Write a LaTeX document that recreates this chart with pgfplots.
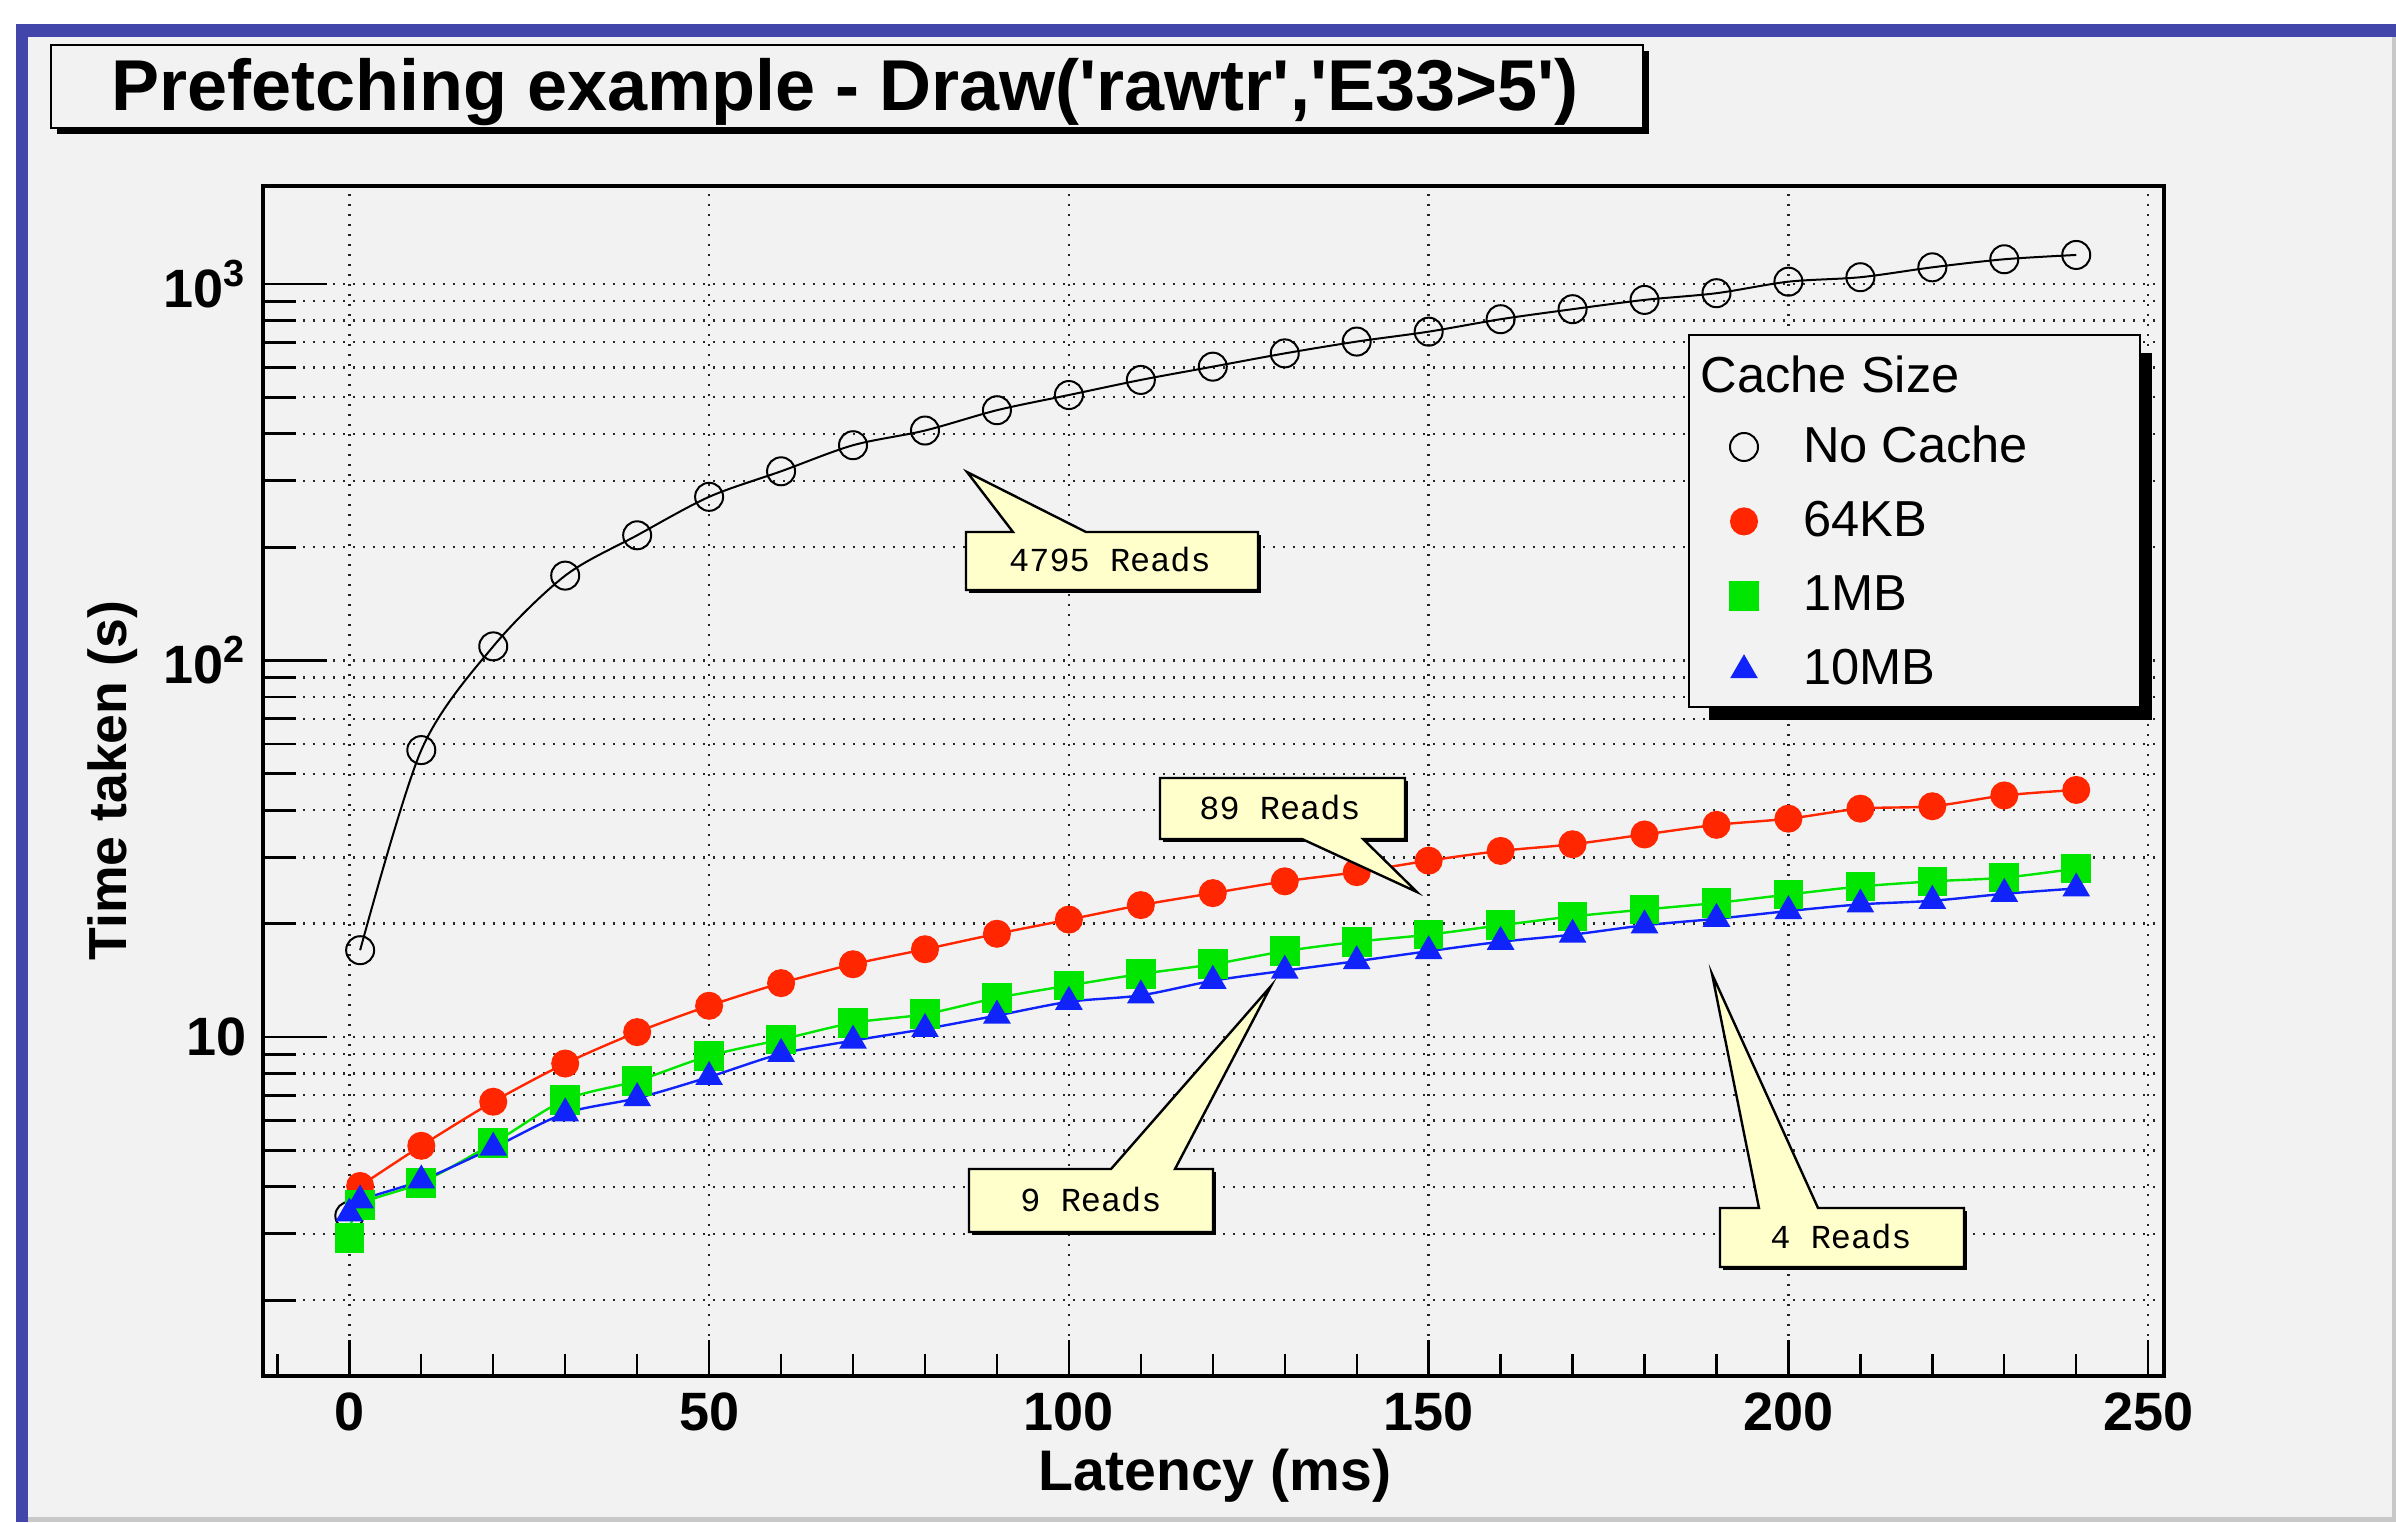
\documentclass[border=0pt]{standalone}
\usepackage{fontspec}
\setmainfont{Liberation Sans}
\setmonofont{Liberation Mono}
\usepackage{pgfplots}
\pgfplotsset{compat=1.18}
\definecolor{canvas}{RGB}{242,242,242}
\definecolor{frameblue}{RGB}{66,70,170}
\definecolor{rootred}{RGB}{255,38,0}
\definecolor{rootgreen}{RGB}{0,230,0}
\definecolor{rootblue}{RGB}{15,35,250}
\definecolor{noteyellow}{RGB}{255,255,204}
\definecolor{edgegray}{RGB}{200,200,200}

\begin{document}
\begin{tikzpicture}
\begin{scope}[x=0.25pt,y=-0.25pt]
\useasboundingbox (0,0) rectangle (2396,1522);
\fill[white] (0,0) rectangle (2396,1522);
\fill[canvas] (28,37) rectangle (2396,1522);
\fill[edgegray] (2392,37) rectangle (2396,1522);
\fill[edgegray] (28,1517) rectangle (2396,1522);
\fill[frameblue] (16,24) rectangle (2396,37);
\fill[frameblue] (16,24) rectangle (28,1522);
% title box
\fill[black] (57,51) rectangle (1649,134);
\filldraw[fill=canvas, draw=black, line width=0.6pt] (51,45) rectangle (1643,128);
\node[anchor=base, inner sep=0pt, font=\fontsize{18}{20}\selectfont\bfseries] at (845,110)
  {Prefetching example - Draw(\textquotesingle rawtr\textquotesingle,\textquotesingle E33>5\textquotesingle)};
\coordinate (axisNW) at (263,185.5);
\end{scope}

\begin{axis}[
  at={(axisNW)}, anchor=north west,
  width=475.25pt, height=297.6pt, scale only axis,
  xmin=-12, xmax=252.2,
  ymode=log, ymin=1.258, ymax=1826,
  clip=false,
  axis line style={line width=1pt, black},
  tick align=inside, xtick pos=left, ytick pos=left,
  xtick={0,50,100,150,200,250},
  ytick={10,100,1000},
  yticklabels={10,10\textsuperscript{2},10\textsuperscript{3}},
  minor ytick={2,3,4,5,6,7,8,9,20,30,40,50,60,70,80,90,200,300,400,500,600,700,800,900},
  major tick length=0pt, minor tick length=0pt,
  xmajorgrids, ymajorgrids, yminorgrids,
  major grid style={black!85, line width=0.6pt, dash pattern=on 0.6pt off 1.9pt},
  minor grid style={black!85, line width=0.6pt, dash pattern=on 0.6pt off 1.9pt},
  tick label style={font=\fontsize{13.5}{16}\selectfont\bfseries},
  /pgf/number format/assume math mode=true,
  xticklabel style={inner sep=0pt, yshift=-3.9pt},
  yticklabel style={inner sep=0pt, xshift=-4pt},
  xlabel={Latency (ms)}, ylabel={Time taken (s)},
  every axis x label/.style={at={(axis description cs:0.5008,-0.084)}, anchor=center, font=\fontsize{14.3}{16}\selectfont\bfseries},
  every axis y label/.style={at={(axis description cs:-0.0789,0.5)}, anchor=center, rotate=90, font=\fontsize{13.4}{16}\selectfont\bfseries},
  legend image code/.code={\path[draw=none,fill=none] (-5pt,0pt) -- (14.75pt,0pt); \draw[#1] plot coordinates {(0pt,0pt)};},
  legend style={at={(axis description cs:0.76854,0.8116)}, anchor=north west, draw=none, fill=none,
    inner sep=0pt, outer sep=0pt, row sep=0pt, column sep=0pt,
    nodes={inner sep=0pt, minimum height=18.6pt, font=\fontsize{12.65}{14}\selectfont}},
  legend cell align=left,
]
% tick marks: long on the y axis, shorter on the x axis
\pgfplotsinvokeforeach{0,50,100,150,200,250}{
  \draw[black, line width=0.6pt] (axis cs:#1,1.258) -- ++(0pt,9pt);}
\pgfplotsinvokeforeach{-10,10,20,30,40,60,70,80,90,110,120,130,140,160,170,180,190,210,220,230,240}{
  \draw[black, line width=0.6pt] (axis cs:#1,1.258) -- ++(0pt,5.5pt);}
\pgfplotsinvokeforeach{10,100,1000}{
  \draw[black, line width=0.7pt] (axis cs:-12,#1) -- ++(16pt,0pt);}
\pgfplotsinvokeforeach{2,3,4,5,6,7,8,9,20,30,40,50,60,70,80,90,200,300,400,500,600,700,800,900}{
  \draw[black, line width=0.7pt] (axis cs:-12,#1) -- ++(8.25pt,0pt);}
% No Cache, latency 0 point (not joined to the curve)
\addplot[forget plot, only marks, mark=o, mark size=3.5pt, black, mark options={line width=0.5pt}]
  coordinates {(0,3.35)};
\addplot[black, line width=0.5pt, smooth, mark=o, mark size=3.5pt, mark options={line width=0.5pt}] coordinates {
(1.5,17.0)(10,57.8)(20,109)(30,168)(40,215)(50,272)(60,318)(70,373)(80,408)(90,462)
(100,507)(110,556)(120,603)(130,654)(140,703)(150,747)(160,806)(170,857)(180,907)(190,945)
(200,1014)(210,1042)(220,1107)(230,1163)(240,1194)};
\addlegendentry{No Cache}
\addplot[rootred, line width=0.6pt, smooth, mark=*, mark size=3.2pt] coordinates {
(1.5,4.02)(10,5.14)(20,6.73)(30,8.50)(40,10.3)(50,12.1)(60,13.9)(70,15.6)(80,17.1)(90,18.8)
(100,20.5)(110,22.4)(120,24.1)(130,25.9)(140,27.4)(150,29.4)(160,31.2)(170,32.5)(180,34.5)(190,36.6)
(200,38.0)(210,40.4)(220,41.0)(230,43.8)(240,45.3)};
\addlegendentry{64KB}
\addplot[rootgreen, line width=0.6pt, smooth, mark=square*, mark size=3.4pt] coordinates {
(0,2.92)(1.5,3.58)(10,4.10)(20,5.22)(30,6.81)(40,7.65)(50,8.91)(60,9.84)(70,10.9)(80,11.5)(90,12.7)
(100,13.7)(110,14.7)(120,15.6)(130,16.9)(140,17.9)(150,18.7)(160,19.8)(170,20.9)(180,21.8)(190,22.7)
(200,23.9)(210,25.1)(220,25.9)(230,26.5)(240,28.0)};
\addlegendentry{1MB}
\addplot[rootblue, line width=0.6pt, smooth, mark=triangle*, mark size=3.4pt] coordinates {
(0,3.4)(1.5,3.68)(10,4.16)(20,5.08)(30,6.27)(40,6.88)(50,7.83)(60,9.02)(70,9.78)(80,10.5)(90,11.4)
(100,12.4)(110,12.9)(120,14.1)(130,15.0)(140,15.9)(150,16.9)(160,17.9)(170,18.7)(180,19.8)(190,20.6)
(200,21.6)(210,22.5)(220,23.0)(230,24.0)(240,24.8)};
\addlegendentry{10MB}
% legend frame, shadow and title (drawn under the legend entries)
\fill[black] (axis description cs:0.76065,0.85930) rectangle (axis description cs:0.99369,0.55103);
\filldraw[fill=canvas, draw=black, line width=0.6pt] (axis description cs:0.75013,0.87442) rectangle (axis description cs:0.98738,0.56195);
\node[anchor=west, inner sep=0pt, font=\fontsize{12.65}{14}\selectfont] at (axis description cs:0.75592,0.84116) {Cache Size};
\end{axis}

\begin{scope}[x=0.25pt,y=-0.25pt]
% callouts
\tikzset{callout/.style={fill=noteyellow, draw=black, line width=0.6pt, line join=miter}}
\fill[black] (969,535) rectangle (1261,593);
\path[callout] (966,532) -- (1013,532) -- (967,472) -- (1086,532) -- (1258,532) -- (1258,590) -- (966,590) -- cycle;
\node[font=\fontsize{8.4}{10}\selectfont\ttfamily, inner sep=0pt] at (1110,560) {4795 Reads};

\fill[black] (1163,781) rectangle (1408,842);
\path[callout] (1160,778) -- (1405,778) -- (1405,839) -- (1363,839) -- (1417,892) -- (1302,839) -- (1160,839) -- cycle;
\node[font=\fontsize{8.4}{10}\selectfont\ttfamily, inner sep=0pt] at (1280,808) {89 Reads};

\fill[black] (972,1172) rectangle (1216,1235);
\path[callout] (969,1169) -- (1111,1169) -- (1271,986) -- (1175,1169) -- (1213,1169) -- (1213,1232) -- (969,1232) -- cycle;
\node[font=\fontsize{8.4}{10}\selectfont\ttfamily, inner sep=0pt] at (1091,1200) {9 Reads};

\fill[black] (1723,1211) rectangle (1967,1270);
\path[callout] (1720,1208) -- (1759,1208) -- (1712,974) -- (1818,1208) -- (1964,1208) -- (1964,1267) -- (1720,1267) -- cycle;
\node[font=\fontsize{8.4}{10}\selectfont\ttfamily, inner sep=0pt] at (1841,1237) {4 Reads};
\end{scope}
\end{tikzpicture}
\end{document}
